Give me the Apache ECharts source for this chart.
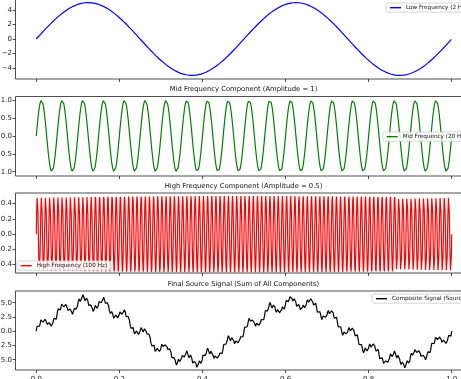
<!DOCTYPE html>
<html>
<head>
<meta charset="utf-8">
<script src="https://cdn.jsdelivr.net/npm/echarts@6/dist/echarts.min.js"></script>
<style>html,body{margin:0;padding:0;background:#fff}#c{width:461px;height:379px}</style>
</head>
<body>
<div id="c"></div>
<script>
// Values (component frequencies in Hz, amplitudes)
const seriesNames = ['Low Frequency (2 Hz)', 'Mid Frequency (20 Hz)', 'High Frequency (100 Hz)', 'Composite Signal (Source)'];
const frequencies = [2, 20, 100];
const amplitudes = [5, 1, 0.5];
const sampleCount = 1000;
const titles = ['', 'Mid Frequency Component (Amplitude = 1)', 'High Frequency Component (Amplitude = 0.5)', 'Final Source Signal (Sum of All Components)'];
const xTicks = [0, 0.2, 0.4, 0.6, 0.8, 1.0];
const yTicks = [
  [-4, -2, 0, 2, 4],
  [-1, -0.5, 0, 0.5, 1],
  [-0.4, -0.2, 0, 0.2, 0.4],
  [-5, -2.5, 0, 2.5, 5]
];
const yDecimals = [0, 1, 1, 1];
const yRanges = [[-5.5, 5.5], [-1.12, 1.1], [-0.51, 0.54], [-6.8, 7.05]];
const colors = ['#0000ff', '#008000', '#ff0000', '#000000'];

const t = [];
for (let i = 0; i < sampleCount; i++) t.push(i / (sampleCount - 1));
const comps = frequencies.map((f, k) => t.map(x => amplitudes[k] * Math.sin(2 * Math.PI * f * x)));
const composite = t.map((x, i) => comps[0][i] + comps[1][i] + comps[2][i]);
const allData = [comps[0], comps[1], comps[2], composite];

const gridTops = [-1, 96.5, 193, 291];
const gridHeights = [80, 79.5, 80, 79];
const font = 'DejaVu Sans';
const fmt = (v, d) => (v < 0 ? '\u2212' : '') + Math.abs(v).toFixed(d);

const chart = echarts.init(document.getElementById('c'), null, {renderer: 'canvas'});
const grids = [], xAxes = [], yAxes = [], series = [], titleArr = [], legends = [];
for (let k = 0; k < 4; k++) {
  grids.push({left: 15.5, width: 457, top: gridTops[k], height: gridHeights[k], containLabel: false, outerBoundsMode: 'none', show: true, borderColor: '#222', borderWidth: 0.8, backgroundColor: 'transparent'});
  xAxes.push({
    type: 'value', gridIndex: k, min: -0.05, max: 1.05, position: 'bottom',
    axisLine: {show: false, onZero: false},
    splitLine: {show: false},
    axisTick: {show: true, inside: false, length: 3, customValues: xTicks, lineStyle: {color: '#222', width: 0.8}},
    axisLabel: {show: k === 3, customValues: xTicks, margin: 5.5, fontSize: 7, fontFamily: font, color: '#222', formatter: v => fmt(v, 1)}
  });
  yAxes.push({
    type: 'value', gridIndex: k, min: yRanges[k][0], max: yRanges[k][1], position: 'left',
    axisLine: {show: false, onZero: false},
    splitLine: {show: false},
    axisTick: {show: true, inside: false, length: 3, customValues: yTicks[k], lineStyle: {color: '#222', width: 0.8}},
    axisLabel: {show: true, customValues: yTicks[k], margin: 3.5, fontSize: 7, fontFamily: font, color: '#222', formatter: v => fmt(v, yDecimals[k])}
  });
  series.push({
    name: seriesNames[k], type: 'line', xAxisIndex: k, yAxisIndex: k,
    data: t.map((x, i) => [x, allData[k][i]]),
    showSymbol: false, symbol: 'none', sampling: null, animation: false,
    lineStyle: {color: colors[k], width: 1.2}, itemStyle: {color: colors[k]}
  });
  if (titles[k]) {
    titleArr.push({text: titles[k], left: 243.5, top: gridTops[k] - 10.5, textAlign: 'center', padding: 0, textStyle: {fontSize: 6.8, fontWeight: 'normal', fontFamily: font, color: '#111'}});
  }
}
const legendPos = [
  {left: 386, top: 3},
  {left: 382.7, top: 132},
  {left: 16.7, top: 261},
  {left: 372, top: 294}
];
for (let k = 0; k < 4; k++) {
  legends.push(Object.assign({
    data: [seriesNames[k]], orient: 'horizontal', icon: 'rect', itemWidth: 11, itemHeight: 1.4, itemGap: 4,
    padding: [1.7, 4, 1.5, 4], backgroundColor: 'rgba(255,255,255,0.85)', borderColor: '#cccccc', borderWidth: 0.8, borderRadius: 2,
    textStyle: {fontSize: 5.7, fontFamily: font, color: '#111', padding: [0, 0, 0, 0]}, selectedMode: false
  }, legendPos[k]));
}
chart.setOption({
  animation: false,
  backgroundColor: '#ffffff',
  title: titleArr,
  legend: legends,
  grid: grids,
  xAxis: xAxes,
  yAxis: yAxes,
  series: series
});
</script>
</body>
</html>
